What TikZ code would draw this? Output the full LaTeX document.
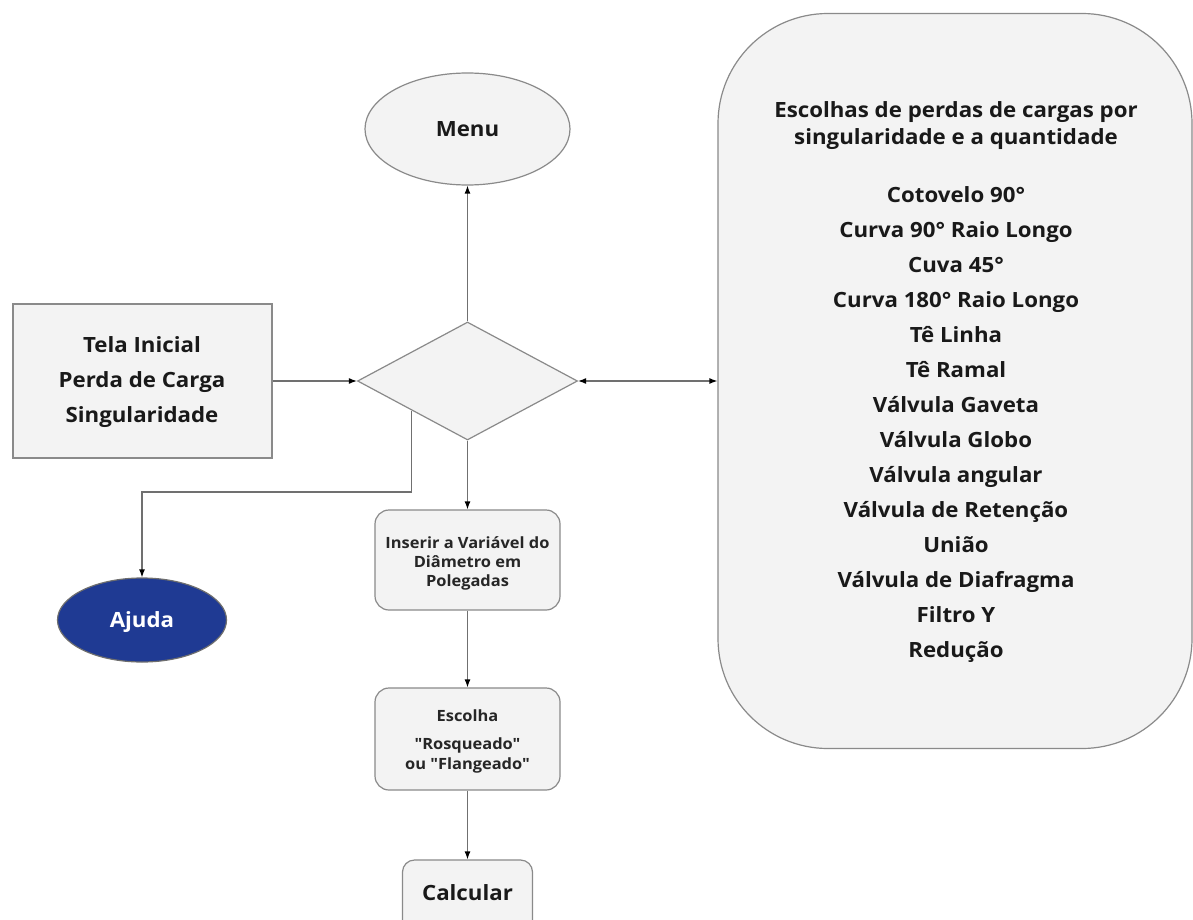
\documentclass[tikz,border=0pt]{standalone}
\usepackage{fontspec}
\setmainfont{Open Sans}[FakeStretch=1.06, Ligatures=TeXOff]
\usetikzlibrary{shapes.geometric,arrows.meta,calc}
\definecolor{boxfill}{HTML}{F3F3F3}
\definecolor{boxline}{HTML}{8A8A8A}
\definecolor{wire}{HTML}{707070}
\definecolor{helpblue}{HTML}{1F3A93}

\begin{document}
\begin{tikzpicture}[x=1pt,y=-1pt,
  shapebox/.style={draw=boxline, fill=boxfill, line width=1.2pt, inner sep=0pt},
  bigtext/.style={font=\fontsize{21}{35}\selectfont\bfseries, text=black!90, align=center},
  smalltext/.style={font=\fontsize{15.5}{20}\selectfont\bfseries, text=black!85, align=center},
  flow/.style={draw=wire, line width=1.3pt, -{Latex[length=8pt,width=6pt,black]}},
  twoway/.style={draw=wire, line width=1.3pt, {Latex[length=8pt,width=6pt,black]}-{Latex[length=8pt,width=6pt,black]}}
]
\clip (0,0) rectangle (1193,920);
\fill[white] (0,0) rectangle (1193,920);

% shapes
\node[shapebox, ellipse, minimum width=205pt, minimum height=112pt] (menu) at (467.5,129) {};
\node[bigtext] at (menu.center) {Menu};

\node[shapebox, diamond, minimum width=220pt, minimum height=118pt] (dia) at (467.5,381) {};

\node[shapebox, rectangle, minimum width=259pt, minimum height=154pt] (tela) at (142.5,381) {};
\node[bigtext, anchor=base] at (142,352) {Tela Inicial};
\node[bigtext, anchor=base] at (142,387) {Perda de Carga};
\node[bigtext, anchor=base] at (142,422) {Singularidade};

\node[draw=boxline!80!black, fill=helpblue, line width=1.2pt, ellipse, inner sep=0pt,
      minimum width=169pt, minimum height=84pt] (ajuda) at (142,620) {};
\node[bigtext, text=white, anchor=base] at (142,627) {Ajuda};

\node[shapebox, rectangle, rounded corners=14pt, minimum width=185pt, minimum height=100pt] (ins) at (467.5,560) {};
\node[smalltext, anchor=base] at (467.5,548) {Inserir a Variável do};
\node[smalltext, anchor=base] at (467.5,567) {Diâmetro em};
\node[smalltext, anchor=base] at (467.5,586) {Polegadas};

\node[shapebox, rectangle, rounded corners=14pt, minimum width=185pt, minimum height=102pt] (esc) at (467.5,739) {};
\node[smalltext, anchor=base] at (467.5,721) {Escolha};
\node[smalltext, anchor=base] at (467.5,749) {"Rosqueado"};
\node[smalltext, anchor=base] at (467.5,769) {ou "Flangeado"};

\node[shapebox, rectangle, rounded corners=12pt, minimum width=130pt, minimum height=80pt] (calc) at (467.5,900) {};
\node[bigtext, anchor=base] at (467.5,900) {Calcular};

\node[shapebox, rectangle, rounded corners=110pt, minimum width=474pt, minimum height=735pt] (lista) at (955,381) {};
\node[bigtext, anchor=base] at (956,118) {Escolhas de perdas de cargas por};
\node[bigtext, anchor=base] at (956,145) {singularidade e a quantidade};
\foreach \item [count=\i] in {Cotovelo 90°, Curva 90° Raio Longo, Cuva 45°,
    Curva 180° Raio Longo, Tê Linha, Tê Ramal, Válvula Gaveta, Válvula Globo,
    Válvula angular, Válvula de Retenção, União, Válvula de Diafragma, Filtro Y, Redução}
  \node[bigtext, anchor=base] at (956,167+35*\i) {\item};

% connectors
\draw[flow] (tela.east) -- (dia.west);
\draw[flow] (dia.north) -- (menu.south);
\draw[twoway] (dia.east) -- (lista.west);
\draw[flow] (dia.south) -- (ins.north);
\draw[flow] (ins.south) -- (esc.north);
\draw[flow] (esc.south) -- (calc.north);
\coordinate (split) at ($(dia.west)!0.495!(dia.south)$);
\draw[flow] (split) -- (split |- 0,492) -| (ajuda.north);
\end{tikzpicture}
\end{document}
